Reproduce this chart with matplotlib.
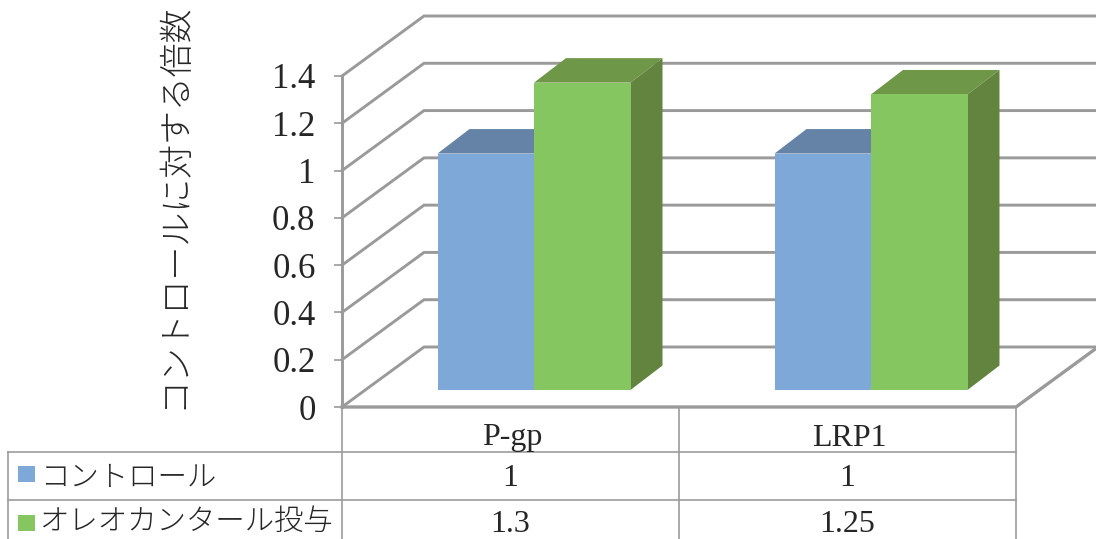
import matplotlib
matplotlib.use("Agg")
import matplotlib.pyplot as plt
from matplotlib.patches import Polygon
from matplotlib.transforms import Affine2D

plt.rcParams['font.family'] = ['Liberation Serif', 'Noto Sans CJK JP', 'DejaVu Sans']

# Data
categories = ["P-gp", "LRP1"]
series_names = ["コントロール", "オレオカンタール投与"]
control = [1, 1]
oleocanthal = [1.3, 1.25]
cell_labels = [["1", "1"], ["1.3", "1.25"]]
y_ticks = [0, 0.2, 0.4, 0.6, 0.8, 1, 1.2, 1.4]
y_tick_labels = ["0", "0.2", "0.4", "0.6", "0.8", "1", "1.2", "1.4"]
y_label = "コントロールに対する倍数"

W, H = 1096, 539
GRID = "#9a9a9a"
TEXT = "#262626"
BLUE = ("#7ea8d8", "#6583a6", "#5f7d9f")
GREEN = ("#86c660", "#6f9748", "#62843f")

fig = plt.figure(figsize=(W / 100, H / 100), dpi=100)

# full page axes in pixels, for the data table and the axis title
page = fig.add_axes([0, 0, 1, 1])
page.set_xlim(0, W)
page.set_ylim(H, 0)
page.axis("off")

# front plane of the 3D box
left, right, top, bottom = 342, 1016, 76, 407
ax = fig.add_axes([left / W, 1 - bottom / H, (right - left) / W, (bottom - top) / H])
ax.set_xlim(0, len(categories))
ax.set_ylim(0, 1.4)
ax.patch.set_visible(False)
for s in ax.spines.values():
    s.set_visible(False)
ax.set_xticks([])
ax.set_yticks(y_ticks)
ax.set_yticklabels(y_tick_labels, fontsize=25, color=TEXT)
ax.tick_params(axis="y", length=6, width=1.2, color=GRID, pad=13)

px_x = (right - left) / len(categories)
px_y = (bottom - top) / 1.4


def shifted(dx, dy):
    return ax.transData + Affine2D().translate(dx, dy)


# walls and floor
wall_dx, wall_dy = 82, 60
wx = wall_dx / px_x
wy = wall_dy / px_y
x_end = len(categories)
for v in y_ticks:
    ax.plot([0, wx, x_end + wx], [v, v + wy, v + wy], color=GRID, lw=2.1, clip_on=False,
            solid_joinstyle="miter", zorder=1)
ax.plot([0, 0], [0, 1.4], color=GRID, lw=2.1, clip_on=False, zorder=1)
ax.plot([0, x_end, x_end + wx], [0, 0, wy], color=GRID, lw=2.4, clip_on=False,
        solid_joinstyle="miter", zorder=1)

# bars stand part way into the floor
bar_dx, bar_dy = 23.5, 17
bar_w = 96.5 / px_x
depth_x = 32 / px_x
depth_y = 24.5 / px_y
trans = shifted(bar_dx, bar_dy)
positions = [0.5 + 0.5 * i * 2 for i in range(len(categories))]
z = 3
for i, c in enumerate(positions):
    for vals, cols, x0 in ((control, BLUE, c - bar_w), (oleocanthal, GREEN, c)):
        h = vals[i]
        ax.add_patch(Polygon([(x0, h), (x0 + depth_x, h + depth_y),
                              (x0 + bar_w + depth_x, h + depth_y), (x0 + bar_w, h)],
                             closed=True, fc=cols[1], ec="none", transform=trans,
                             clip_on=False, zorder=z))
        ax.add_patch(Polygon([(x0 + bar_w, 0), (x0 + bar_w + depth_x, depth_y),
                              (x0 + bar_w + depth_x, h + depth_y), (x0 + bar_w, h)],
                             closed=True, fc=cols[2], ec="none", transform=trans,
                             clip_on=False, zorder=z))
        ax.bar(x0, h, width=bar_w, align="edge", color=cols[0], edgecolor="none",
               transform=trans, clip_on=False, zorder=z + 0.5)
        z += 1

# data table under the chart
table_col = "#9c9c9c"
col_x = [left, (left + right) / 2, right]
row_y = [452, 500]
for x in col_x:
    page.plot([x, x], [bottom, H], color=table_col, lw=1.2)
page.plot([8, 8], [row_y[0], H], color=table_col, lw=1.2)
for y in row_y:
    page.plot([8, right], [y, y], color=table_col, lw=1.2)

text_kw = dict(color=TEXT, ha="center", va="center", fontsize=23, fontweight="light")
centers = [(col_x[0] + col_x[1]) / 2, (col_x[1] + col_x[2]) / 2]
for x, name in zip(centers, categories):
    page.text(x + 2, 438, name, **text_kw)
for row, y in enumerate([478, 524]):
    for x, lab in zip(centers, cell_labels[row]):
        page.text(x, y, lab, **text_kw)

# legend keys inside the table's first column
for y, ty, name, cols in zip([474, 523], [479, 523], series_names, [BLUE, GREEN]):
    page.add_patch(Polygon([(18, y - 8), (35, y - 8), (35, y + 8), (18, y + 8)], closed=True,
                           fc=cols[0], ec="none"))
    page.text(40, ty, name, color=TEXT, ha="left", va="center", fontsize=21.2, fontweight="light")

page.text(175, 206, y_label, color=TEXT, rotation=90, ha="center", va="center",
          fontsize=24.4, fontweight="light")

fig.savefig("out.png", dpi=100)
